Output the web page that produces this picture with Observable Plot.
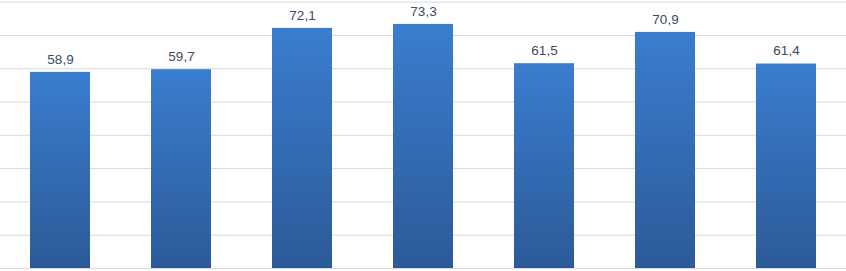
<!DOCTYPE html>
<html>
<head>
<meta charset="utf-8">
<script src="https://cdn.jsdelivr.net/npm/d3@7"></script>
<script src="https://cdn.jsdelivr.net/npm/@observablehq/plot@0.6"></script>
<style>
  html, body { margin: 0; padding: 0; background: #fff; }
  #chart svg { display: block; }
</style>
</head>
<body>
<div id="chart"></div>
<script>
const categories = ["1", "2", "3", "4", "5", "6", "7"];
const values = [58.9, 59.7, 72.1, 73.3, 61.5, 70.9, 61.4];
const gridTicks = [0, 10, 20, 30, 40, 50, 60, 70, 80];

const data = categories.map((c, i) => ({category: c, value: values[i]}));

const chart = Plot.plot({
  width: 846,
  height: 271,
  marginTop: 0,
  marginBottom: 0,
  marginLeft: 0,
  marginRight: 0,
  x: {domain: categories, range: [0, 846], paddingInner: 0.5055, paddingOuter: 0.239, axis: null},
  y: {domain: [0, 80], range: [268, 1.6], axis: null},
  style: {fontFamily: "Liberation Sans, Arial, sans-serif", background: "#fff"},
  marks: [
    Plot.ruleY(gridTicks, {stroke: "#d9d9d9", strokeWidth: 1}),
    Plot.barY(data, {x: "category", y: "value", fill: "url(#barGrad)"}),
    Plot.text(data, {
      x: "category",
      y: "value",
      text: d => d.value.toFixed(1).replace(".", ","),
      dy: -13,
      fill: "#3b4a60",
      fontSize: 13.5
    })
  ]
});

const ns = "http://www.w3.org/2000/svg";
const defs = document.createElementNS(ns, "defs");
const grad = document.createElementNS(ns, "linearGradient");
grad.setAttribute("id", "barGrad");
grad.setAttribute("x1", "0"); grad.setAttribute("y1", "0");
grad.setAttribute("x2", "0"); grad.setAttribute("y2", "1");
[["0%", "#3a7dcf"], ["100%", "#2c5a98"]].forEach(([o, c]) => {
  const s = document.createElementNS(ns, "stop");
  s.setAttribute("offset", o);
  s.setAttribute("stop-color", c);
  grad.appendChild(s);
});
defs.appendChild(grad);
chart.insertBefore(defs, chart.firstChild);

document.getElementById("chart").appendChild(chart);
</script>
</body>
</html>
